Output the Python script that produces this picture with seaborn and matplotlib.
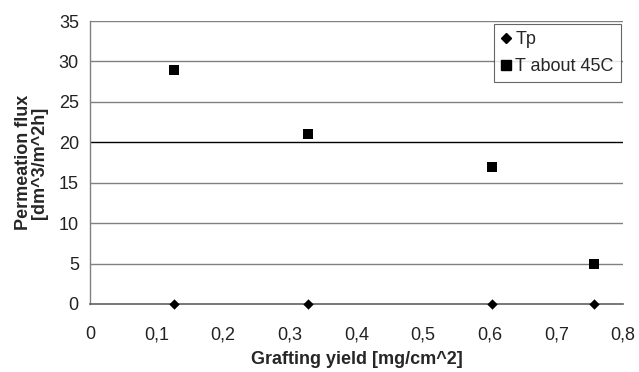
import matplotlib
matplotlib.use("Agg")
import matplotlib.pyplot as plt
import seaborn as sns
import pandas as pd
from matplotlib.ticker import MultipleLocator, FuncFormatter
from matplotlib.lines import Line2D

grafting_yield = [0.126, 0.327, 0.604, 0.756]
tp_flux = [0, 0, 0, 0]
t45_flux = [29, 21, 17, 5]
series_names = ["Tp", "T about 45C"]

df_tp = pd.DataFrame({"x": grafting_yield, "y": tp_flux})
df_t45 = pd.DataFrame({"x": grafting_yield, "y": t45_flux})

sns.set_theme(style="white")
plt.rcParams["font.family"] = ["Liberation Sans", "DejaVu Sans"]

FS = 13

fig = plt.figure(figsize=(6.39, 3.72), dpi=100)
ax = fig.add_axes([0.1408, 0.183, 0.834, 0.7605])

sns.scatterplot(data=df_tp, x="x", y="y", marker="D", s=28, color="black",
                linewidth=0, ax=ax, zorder=3, clip_on=False)
sns.scatterplot(data=df_t45, x="x", y="y", marker="s", s=52, color="black",
                linewidth=0, ax=ax, zorder=3)

ax.set_xlim(0, 0.8)
ax.set_ylim(0, 35)
ax.xaxis.set_major_locator(MultipleLocator(0.1))
ax.yaxis.set_major_locator(MultipleLocator(5))
ax.xaxis.set_major_formatter(FuncFormatter(lambda v, p: ("%g" % round(v, 1)).replace(".", ",")))
ax.yaxis.set_major_formatter(FuncFormatter(lambda v, p: "%d" % v))

for yv in range(5, 36, 5):
    ax.axhline(yv, color="black" if yv == 20 else "#808080", lw=1.0, zorder=1)

for s in ["top", "right"]:
    ax.spines[s].set_visible(False)
ax.spines["left"].set_color("#808080")
ax.spines["bottom"].set_color("#606060")
ax.spines["left"].set_linewidth(1.0)
ax.spines["bottom"].set_linewidth(1.2)

ax.tick_params(axis="both", which="major", direction="out", length=4, width=1,
               color="#606060", labelsize=FS, labelcolor="#222222")
ax.tick_params(axis="x", pad=12)
ax.tick_params(axis="y", pad=4)

ax.set_xlabel("Grafting yield [mg/cm^2]", fontsize=FS, fontweight="bold")
ax.xaxis.set_label_coords(0.5, -0.165)
ax.set_ylabel("Permeation flux\n[dm^3/m^2h]", fontsize=FS, fontweight="bold",
              linespacing=0.95)
ax.yaxis.set_label_coords(-0.079, 0.5)

handles = [Line2D([], [], marker="D", color="black", ls="none", markersize=5),
           Line2D([], [], marker="s", color="black", ls="none", markersize=7)]
leg = ax.legend(handles, series_names, loc="upper right", bbox_to_anchor=(0.9965, 0.99),
                frameon=True, fancybox=False, edgecolor="#404040", fontsize=FS,
                handlelength=0.55, handletextpad=0.25, borderpad=0.4, labelspacing=0.55,
                borderaxespad=0)
leg.get_frame().set_linewidth(0.8)

fig.savefig("out.png", dpi=100)
